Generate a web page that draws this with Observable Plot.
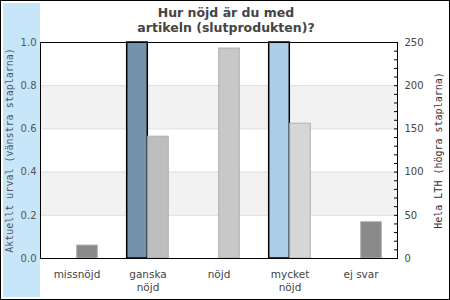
<!DOCTYPE html>
<html>
<head>
<meta charset="utf-8">
<script src="https://cdn.jsdelivr.net/npm/d3@7"></script>
<script src="https://cdn.jsdelivr.net/npm/@observablehq/plot@0.6"></script>
<style>
  html, body { margin: 0; padding: 0; background: #fff; }
  #wrap { position: relative; width: 450px; height: 300px; overflow: hidden; background: #fff; }
  #panel { position: absolute; left: 3px; top: 3px; width: 37px; height: 294px; background: #c8e6fa; }
  #border { position: absolute; left: 0; top: 0; width: 450px; height: 300px; box-sizing: border-box; border: 1px solid #000; pointer-events: none; }
  #title { position: absolute; left: 0; top: 5px; width: 452px; text-align: center; font: bold 12.5px "DejaVu Sans", sans-serif; line-height: 15px; color: #444; }
  #chart { position: absolute; left: 0; top: 0; }
  #chart svg { background: transparent !important; }
</style>
</head>
<body>
<div id="wrap">
  <div id="panel"></div>
  <div id="chart"></div>
  <div id="title">Hur nöjd är du med<br>artikeln (slutprodukten)?</div>
  <div id="border"></div>
</div>
<script>
const categories = ["missnöjd", "ganska\nnöjd", "nöjd", "mycket\nnöjd", "ej svar"];
const leftValues = [0, 1.0, 0, 1.0, 0];          // Aktuellt urval (0..1)
const rightValues = [15, 141, 243, 156, 42];     // Hela LTH (0..250)
const leftColors = ["#7393ad", "#7393ad", "#7393ad", "#abcde8", "#abcde8"];
const rightColors = ["#8a8a8a", "#bebebe", "#c8c8c8", "#d6d6d6", "#8a8a8a"];
const leftTicks = [0, 0.2, 0.4, 0.6, 0.8, 1.0];
const rightMax = 250;
const rightLabelTicks = [0, 50, 100, 150, 200, 250];
const rightMinorTicks = d3.range(0, 251, 10);
const stripes = [{y1: 0.2, y2: 0.4}, {y1: 0.6, y2: 0.8}];
const gridLines = [0.2, 0.4, 0.6, 0.8];
const leftLabel = "Aktuellt urval (vänstra staplarna)";
const rightLabel = "Hela LTH (högra staplarna)";

const data = categories.map((c, i) => ({
  cat: c, left: leftValues[i], right: rightValues[i],
  lc: leftColors[i], rc: rightColors[i]
}));

const W = 450, H = 300, mL = 40, mR = 53, mT = 42, mB = 42;
const bw = (W - mL - mR) / categories.length;
const barW = 21;

const plot = Plot.plot({
  width: W, height: H,
  marginLeft: mL, marginRight: mR, marginTop: mT, marginBottom: mB,
  style: {background: "transparent", fontFamily: "DejaVu Sans, sans-serif"},
  x: {domain: categories, padding: 0, axis: null},
  y: {domain: [0, 1], axis: null},
  marks: [
    Plot.rectY(stripes, {y1: "y1", y2: "y2", fill: "#f2f2f2"}),
    Plot.ruleY(gridLines, {stroke: "#dddddd"}),
    Plot.barY(data.filter(d => d.left > 0), {
      x: "cat", y: "left", fill: "lc", stroke: "#000", strokeWidth: 1.5,
      insetLeft: bw / 2 - barW, insetRight: bw / 2
    }),
    Plot.barY(data.filter(d => d.right > 0), {
      x: "cat", y: d => d.right / rightMax, fill: "rc", stroke: "#b0b0b0", strokeWidth: 1,
      insetLeft: bw / 2, insetRight: bw / 2 - barW
    }),
    Plot.frame({stroke: "#000", strokeWidth: 1}),
    Plot.axisX({
      anchor: "bottom", tickSize: 0, tickPadding: 11, label: null,
      fontSize: 10.5, lineHeight: 1.2, color: "#444"
    }),
    Plot.axisY({
      anchor: "left", ticks: leftTicks, tickSize: 0, tickPadding: 4,
      tickFormat: d3.format(".1f"), label: null, fontSize: 10, color: "#555"
    }),
    Plot.axisY({
      anchor: "right", ticks: rightMinorTicks.map(v => v / rightMax), tickSize: -4,
      tickFormat: () => "", label: null, color: "#000"
    }),
    Plot.axisY({
      anchor: "right", ticks: rightLabelTicks.map(v => v / rightMax), tickSize: 0, tickPadding: 7,
      tickFormat: d => String(Math.round(d * rightMax)), label: null, fontSize: 10, color: "#444"
    }),
    Plot.text([leftLabel], {
      frameAnchor: "left", textAnchor: "middle", rotate: -90, dx: -31, text: d => d,
      fontFamily: "DejaVu Sans Mono, monospace", fontSize: 10, fill: "#555"
    }),
    Plot.text([rightLabel], {
      frameAnchor: "right", textAnchor: "middle", rotate: -90, dx: 41, text: d => d,
      fontFamily: "DejaVu Sans Mono, monospace", fontSize: 10, fill: "#333"
    })
  ]
});
document.getElementById("chart").appendChild(plot);
</script>
</body>
</html>
